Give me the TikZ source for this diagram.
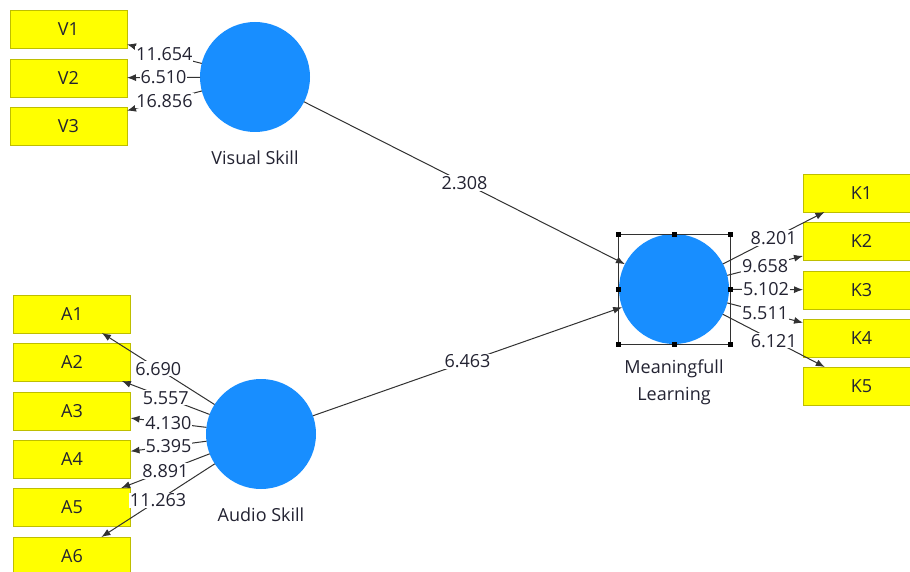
\documentclass[tikz,border=0pt]{standalone}
\usepackage{fontspec}
\setmainfont{Open Sans}
\usetikzlibrary{arrows.meta}
\definecolor{plsblue}{RGB}{24,142,255}
\definecolor{plsyellow}{RGB}{255,255,0}
\definecolor{plsedge}{RGB}{190,190,0}
\definecolor{plsline}{RGB}{50,50,50}
\definecolor{plstext}{RGB}{35,35,50}

\begin{document}
\begin{tikzpicture}[x=1pt,y=-1pt,
    every node/.style={font=\fontsize{18}{21}\selectfont, text=plstext},
    ind/.style={draw=plsedge, fill=plsyellow, minimum width=117pt, minimum height=38pt, inner sep=0pt, outer sep=0pt},
    lv/.style={circle, fill=plsblue, minimum size=110pt, inner sep=0pt, outer sep=0pt},
    rel/.style={draw=plsline, line width=1pt, -{Latex[length=9pt,width=7pt]}},
    val/.style={fill=white, inner sep=1pt}]

        % Page
        \clip (0,0) rectangle (910,572);
        \fill[white] (0,0) rectangle (910,572);

        % Constructs
        \node[lv] (vs) at (255,77) {};
        \node[lv] (as) at (261,434) {};
        \node[lv] (ml) at (674,289) {};

        \node (vslbl) at (255,158) {Visual Skill};
        \node (aslbl) at (261,515) {Audio Skill};
        \node[align=center] (mllbl) at (674,382) {Meaningfull\\[6pt]Learning};

        % Indicators
        \node[ind] (v1) at (68.5,29.5) {V1};
        \node[ind] (v2) at (68.5,78) {V2};
        \node[ind] (v3) at (68.5,126) {V3};

        \node[ind] (a1) at (72,314) {A1};
        \node[ind] (a2) at (72,362) {A2};
        \node[ind] (a3) at (72,411) {A3};
        \node[ind] (a4) at (72,459) {A4};
        \node[ind] (a5) at (72,507) {A5};
        \node[ind] (a6) at (72,556) {A6};

        \node[ind] (k1) at (861.5,193) {K1};
        \node[ind] (k2) at (861.5,241) {K2};
        \node[ind] (k3) at (861.5,290) {K3};
        \node[ind] (k4) at (861.5,338) {K4};
        \node[ind] (k5) at (861.5,386) {K5};

        % Outer loadings
        \draw[rel] (vs) -- node[val] {11.654} (v1);
        \draw[rel] (vs) -- node[val] {6.510} (v2);
        \draw[rel] (vs) -- node[val] {16.856} (v3);

        \draw[rel] (as) -- node[val] {6.690} (a1);
        \draw[rel] (as) -- node[val] {5.557} (a2);
        \draw[rel] (as) -- node[val] {4.130} (a3);
        \draw[rel] (as) -- node[val] {5.395} (a4);
        \draw[rel] (as) -- node[val] {8.891} (a5);
        \draw[rel] (as) -- node[val] {11.263} (a6);

        \draw[rel] (ml) -- node[val] {8.201} (k1);
        \draw[rel] (ml) -- node[val] {9.658} (k2);
        \draw[rel] (ml) -- node[val] {5.102} (k3);
        \draw[rel] (ml) -- node[val] {5.511} (k4);
        \draw[rel] (ml) -- node[val] {6.121} (k5);

        % Path coefficients
        \draw[rel] (vs) -- node[val] {2.308} (ml);
        \draw[rel] (as) -- node[val] {6.463} (ml);

        % Selection frame
        \draw[plsline, line width=1pt] (618,234) rectangle (730,344);
        \foreach \hx/\hy in {618/234, 674/234, 730/234, 618/289, 730/289, 618/344, 674/344, 730/344}
            \fill[black] (\hx-2.5,\hy-2.5) rectangle ++(5,5);

    \end{tikzpicture}
\end{document}
